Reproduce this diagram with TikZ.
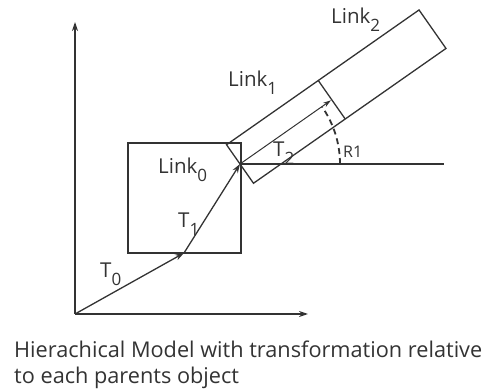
\documentclass[tikz,border=0pt]{standalone}
\usepackage{fontspec}
\setmainfont{Open Sans}
\usetikzlibrary{arrows.meta,calc}
\definecolor{ink}{HTML}{333333}
% large, deeply dropped subscript
\newcommand\lowsub[1]{\raisebox{-7.5pt}{\fontsize{17}{20}\selectfont #1}}
\tikzset{
  edge/.style={draw=ink, line width=1.3pt},
  vec/.style={draw=ink, line width=1.3pt, -{Stealth[length=9pt,width=6pt]}},
  lbl/.style={text=ink, inner sep=0pt, anchor=base west, font=\fontsize{20.5}{24}\selectfont},
  small/.style={text=ink, inner sep=0pt, anchor=base west, font=\fontsize{16}{20}\selectfont},
  captiontext/.style={text=ink, inner sep=0pt, anchor=base west, font=\fontsize{21.7}{25}\selectfont},
}
\begin{document}
\begin{tikzpicture}[x=1pt,y=1pt]
\useasboundingbox (0,0) rectangle (486,390);
% frame points
\coordinate (O) at (75,76);
\coordinate (Ytop) at (75,368);
\coordinate (Xend) at (308,76);
\coordinate (P1) at (184,137);
\coordinate (J) at (240,226);
\coordinate (H) at (444,226);
% axes
\draw[vec] (O) -- (Ytop);
\draw[vec] (O) -- (Xend);
% base link
\draw[edge] (128,137) rectangle (241,247);
% translations
\draw[vec] (O) -- (P1);
\draw[vec] (P1) -- (J);
% reference line at the joint
\draw[edge] (J) -- (H);
% rotated links
\begin{scope}[shift={(J)}, rotate=35]
  \coordinate (L1a) at (0,23.5);
  \coordinate (L1b) at (0,-23.5);
  \coordinate (Da) at (112,23.5);
  \coordinate (Db) at (112,-23.5);
  \coordinate (L2a) at (235,23.5);
  \coordinate (L2b) at (235,-23.5);
  \coordinate (T2end) at (111,0);
  \draw[edge] (L1a) -- (L2a) -- (L2b) -- (L1b) -- cycle;
  \draw[edge] (Da) -- (Db);
  \draw[draw=ink, line width=1pt, -{Stealth[length=8pt,width=5pt]}] (0,0) -- (T2end);
\end{scope}
% rotation angle
\draw[draw=ink, line width=1.8pt, dash pattern=on 6pt off 4pt] ($(J)+(0:100)$) arc[start angle=0, end angle=35, radius=100];
% labels
\node[lbl] (n2) at (331,366) {Link\lowsub{2}};
\node[lbl] (n1) at (228,303) {Link\lowsub{1}};
\node[lbl] (n0) at (158,216) {Link\lowsub{0}};
\node[lbl] (t1) at (178,162) {T\lowsub{1}};
\node[lbl] (t0) at (100,112) {T\lowsub{0}};
\node[lbl] (t2) at (273,233) {T\lowsub{2}};
\node[small] (r1) at (343,232) {R1};
\node[captiontext] (c1) at (14,32) {Hierachical Model with transformation relative};
\node[captiontext] (c2) at (14,7) {to each parents object};
\end{tikzpicture}
\end{document}
